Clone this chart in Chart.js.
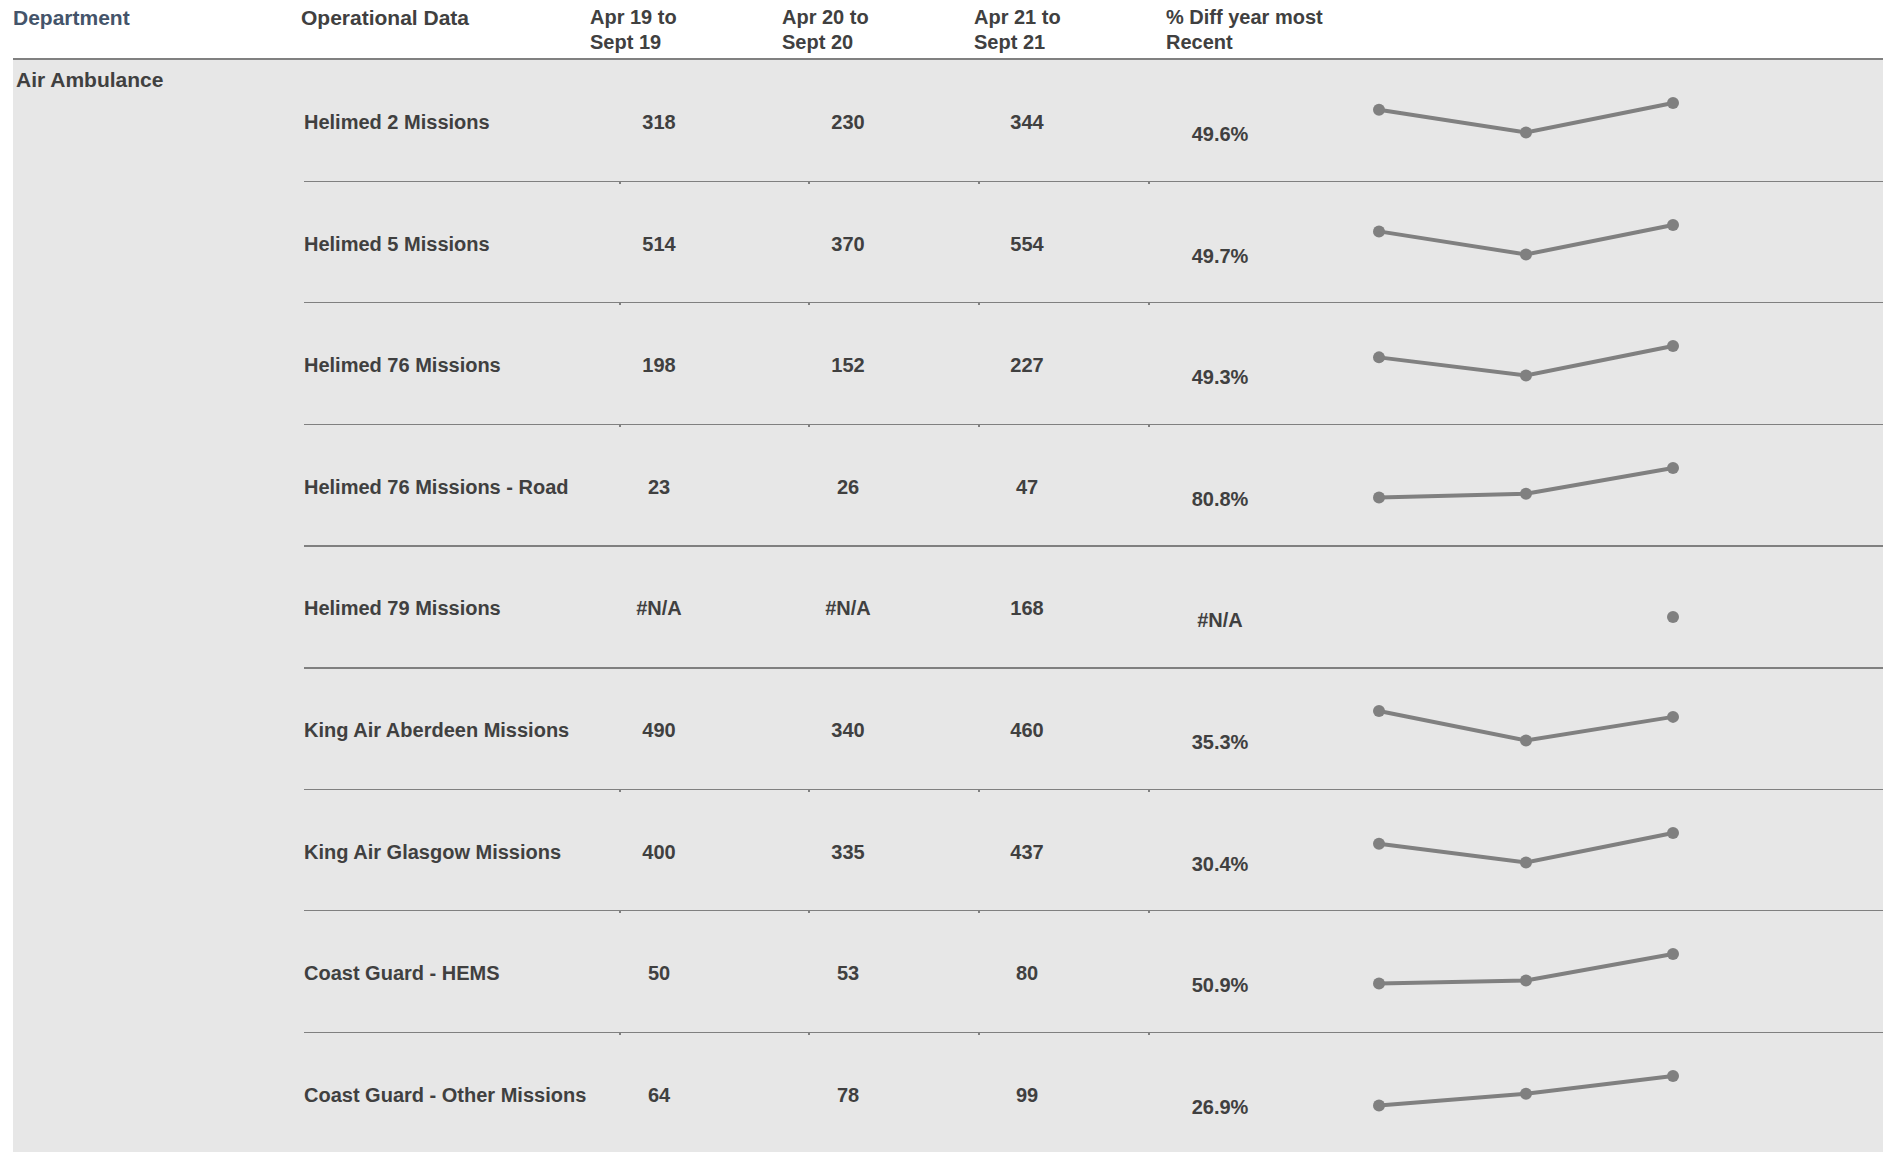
<!DOCTYPE html>
<html>
<head>
<meta charset="utf-8">
<title>Air Ambulance - Operational Data</title>
<script src="https://cdn.jsdelivr.net/npm/chart.js@4/dist/chart.umd.min.js"></script>
<style>
	html, body {
		margin: 0;
		padding: 0;
		background: #ffffff;
		width: 1883px;
		height: 1152px;
		overflow: hidden;
		font-family: "Liberation Sans", Arial, sans-serif;
		font-weight: bold;
		color: #404040;
	}
	.abs {
		position: absolute;
		white-space: nowrap;
		line-height: 25px;
	}
	.hdr { font-size: 20px; }
	.big { font-size: 21px; }
	.cell { font-size: 20px; width: 140px; text-align: center; }
	#panel {
		position: absolute;
		left: 13px;
		top: 60px;
		right: 0;
		bottom: 0;
		background: #e7e7e7;
	}
	#topline {
		position: absolute;
		left: 13px;
		top: 58px;
		right: 0;
		height: 2px;
		background: #808080;
	}
	.sep {
		position: absolute;
		left: 304px;
		right: 0;
		height: 1px;
		background: #808080;
	}
	.sep.thick { height: 2px; }
	.tick {
		position: absolute;
		width: 2px;
		height: 2px;
		background: #808080;
	}
	canvas { position: absolute; }
</style>
</head>
<body>
<div id="panel"></div>
<div id="topline"></div>
<div id="root"></div>

<script>
// DATA

const periods = ["Apr 19 to Sept 19", "Apr 20 to Sept 20", "Apr 21 to Sept 21"];
const metrics = [
	"Helimed 2 Missions",
	"Helimed 5 Missions",
	"Helimed 76 Missions",
	"Helimed 76 Missions - Road",
	"Helimed 79 Missions",
	"King Air Aberdeen Missions",
	"King Air Glasgow Missions",
	"Coast Guard - HEMS",
	"Coast Guard - Other Missions",
];
const apr19 = [318, 514, 198, 23, null, 490, 400, 50, 64];
const apr20 = [230, 370, 152, 26, null, 340, 335, 53, 78];
const apr21 = [344, 554, 227, 47, 168, 460, 437, 80, 99];
const pctDiff = [49.6, 49.7, 49.3, 80.8, null, 35.3, 30.4, 50.9, 26.9];

// LAYOUT

const root = document.getElementById("root");
const rowTop0 = 59;
const rowH = 121.6;

function addText(txt, cls, left, top, color) {
	const d = document.createElement("div");
	d.className = "abs " + cls;
	d.style.left = left + "px";
	d.style.top = top + "px";
	if (color) d.style.color = color;
	d.innerHTML = txt;
	root.appendChild(d);
	return d;
}

function fmt(v) {
	return v === null ? "#N/A" : String(v);
}

// HEADER
addText("Department", "big", 13, 5, "#44546a");
addText("Operational Data", "big", 301, 5);
addText("Apr 19 to<br>Sept 19", "hdr", 590, 5);
addText("Apr 20 to<br>Sept 20", "hdr", 782, 5);
addText("Apr 21 to<br>Sept 21", "hdr", 974, 5);
addText("% Diff year most<br>Recent", "hdr", 1166, 5);

addText("Air Ambulance", "big", 16, 67);

// ROWS
const colCenters = [659, 848, 1027];
const cols = [apr19, apr20, apr21];
const tickXs = [619, 808, 978, 1148];

metrics.forEach(function (name, i) {
	const top = rowTop0 + rowH * i;
	const baseTop = top + 51;

	addText(name, "hdr", 304, baseTop);
	cols.forEach(function (arr, c) {
		addText(fmt(arr[i]), "cell", colCenters[c] - 70, baseTop);
	});
	const p = pctDiff[i] === null ? "#N/A" : pctDiff[i].toFixed(1) + "%";
	addText(p, "cell", 1220 - 70, baseTop + 12);

	// separator under the row
	if (i < metrics.length - 1) {
		const y = rowTop0 + rowH * (i + 1);
		const s = document.createElement("div");
		const thick = i === 3 || i === 4;
		s.className = "sep" + (thick ? " thick" : "");
		s.style.top = Math.round(y) + "px";
		root.appendChild(s);
		if (!thick) {
			tickXs.forEach(function (tx) {
				const t = document.createElement("div");
				t.className = "tick";
				t.style.left = tx + "px";
				t.style.top = Math.round(y) + 1 + "px";
				root.appendChild(t);
			});
		}
	}
});

// SPARKLINES

const sparkLeft = 1359;
const sparkW = 334;
const sparkH = 122;
const padX = 20;
const padTop = 44;
const bandH = 29.4;

metrics.forEach(function (name, i) {
	const vals = [apr19[i], apr20[i], apr21[i]];
	const real = vals.filter(function (v) { return v !== null; });
	let lo = Math.min.apply(null, real);
	let hi = Math.max.apply(null, real);
	if (lo === hi) {
		lo = lo - 1;
		hi = hi + 19;
	}

	const cv = document.createElement("canvas");
	cv.width = sparkW;
	cv.height = sparkH;
	cv.style.left = sparkLeft + "px";
	cv.style.top = Math.round(rowTop0 + rowH * i) + "px";
	cv.style.width = sparkW + "px";
	cv.style.height = sparkH + "px";
	root.appendChild(cv);

	const config = {
		type: "line",
		data: {
			labels: periods,
			datasets: [
				{
					label: name,
					data: vals,
					borderColor: "#808080",
					backgroundColor: "#808080",
					pointBackgroundColor: "#808080",
					pointBorderWidth: 0,
					pointRadius: 6,
					borderWidth: 4,
					tension: 0,
					spanGaps: false,
					clip: false,
				},
			],
		},
		options: {
			responsive: false,
			animation: false,
			events: [],
			layout: {
				padding: { left: padX, right: padX, top: padTop, bottom: sparkH - padTop - bandH },
			},
			plugins: {
				legend: { display: false },
				tooltip: { enabled: false },
			},
			scales: {
				x: { display: false, offset: false },
				y: { display: false, min: lo, max: hi },
			},
		},
	};

	new Chart(cv, config);
});
</script>
</body>
</html>
